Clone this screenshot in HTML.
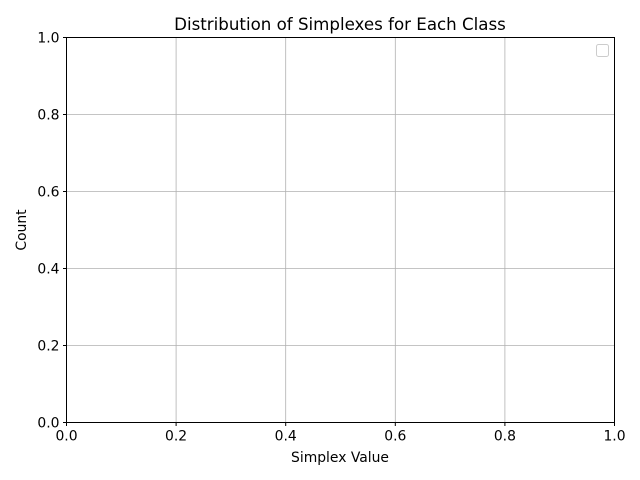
<!DOCTYPE html>
<html><head><meta charset="utf-8"><style>
body{margin:0;background:#fff;}
svg{display:block;font-family:"DejaVu Sans","Liberation Sans",sans-serif;}
</style></head><body>
<svg width="640" height="480">
<rect width="640" height="480" fill="#fff"/>
<text x="340" y="30" font-size="16.67" text-anchor="middle">Distribution of Simplexes for Each Class</text>
<g id="grid"></g>
<rect x="66.5" y="37.5" width="548" height="385" fill="none" stroke="#000" stroke-width="1"/>
<g id="ticks" font-size="13.9"></g>
<text x="340" y="462" font-size="13.9" text-anchor="middle">Simplex Value</text>
<text transform="translate(26,230) rotate(-90)" font-size="13.9" text-anchor="middle">Count</text>
<rect x="596.5" y="44.5" width="12" height="12" rx="2" fill="#fff" stroke="#ccc"/>
</svg>
<script>
const xTicks=[0,0.2,0.4,0.6,0.8,1.0];
const yTicks=[0,0.2,0.4,0.6,0.8,1.0];
const X0=66.5,X1=614.5,Y0=422.5,Y1=37.5;
const xs=v=>X0+(X1-X0)*v, ys=v=>Y0+(Y1-Y0)*v;
const NS="http://www.w3.org/2000/svg";
const g=document.getElementById('grid'), t=document.getElementById('ticks');
function mk(tag,a,p){const e=document.createElementNS(NS,tag);for(const k in a)e.setAttribute(k,a[k]);p.appendChild(e);return e;}
xTicks.forEach(v=>{
 const x=xs(v);
 const gl=mk('line',{x1:x,x2:x,y1:Y1,y2:Y0,stroke:'#b0b0b0','stroke-width':0.8},g);
 
 
 mk('line',{x1:x,x2:x,y1:Y0,y2:Y0+3.5,stroke:'#000'},t);
 const tx=mk('text',{x:x,y:Y0+18,'text-anchor':'middle'},t);tx.textContent=v.toFixed(1);
 
 
});
yTicks.forEach(v=>{
 const y=ys(v);
 const gl=mk('line',{x1:X0,x2:X1,y1:y,y2:y,stroke:'#b0b0b0','stroke-width':0.8},g);
 
 
 mk('line',{x1:X0-3.5,x2:X0,y1:y,y2:y,stroke:'#000'},t);
 const tx=mk('text',{x:X0-7,y:y+5,'text-anchor':'end'},t);tx.textContent=v.toFixed(1);
 
 
});
</script>
</body></html>
